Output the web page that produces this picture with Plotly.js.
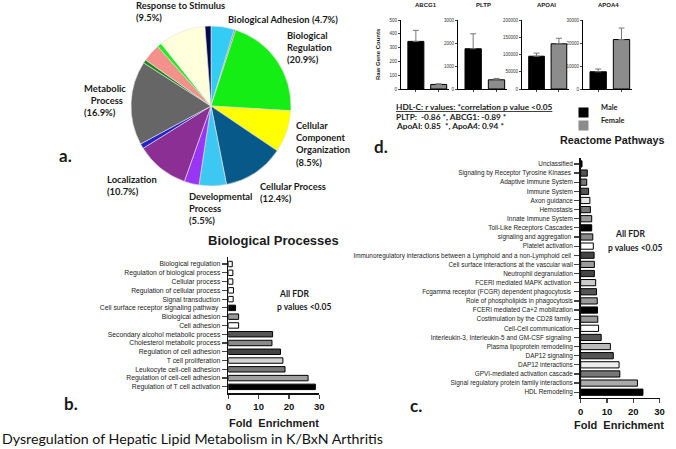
<!DOCTYPE html>
<html>
<head>
<meta charset="utf-8">
<script src="https://cdn.plot.ly/plotly-3.0.1.min.js"></script>
<style>html,body{margin:0;padding:0;background:#fff;}#chart{width:676px;height:449px;}</style>
</head>
<body>
<div id="chart"></div>
<script>
// ---------- Data ----------
// a. GO biological process pie (clockwise from 12 o'clock)
const pieLabels = ['Biological Adhesion', 'Other (a)', 'Biological Regulation', 'Cellular Component Organization',
  'Cellular Process', 'Developmental Process', 'Other (b)', 'Localization', 'Other (c)', 'Metabolic Process',
  'Other (d)', 'Other (e)', 'Other (f)', 'Response to Stimulus', 'Other (g)'];
const pieValues = [4.7, 0.3, 20.9, 8.5, 12.4, 5.5, 3.0, 10.7, 1.0, 16.9, 0.7, 3.6, 0.9, 9.5, 1.2];
const pieColors = ['#33ccf5', '#7a6a9a', '#14ee14', '#ffff00', '#07598a', '#3cc8f2', '#9b35f5', '#8c2f94',
  '#2424c8', '#666666', '#168c16', '#f4918b', '#22ee22', '#ffffdc', '#06064f'];

// d. raw gene counts
const genes = ['ABCG1', 'PLTP', 'APOAI', 'APOA4'];
const sexes = ['Male', 'Female'];
const maleMeans = [345, 1750, 95000, 7500];
const maleErr = [80, 650, 9000, 1200];
const femaleMeans = [33, 400, 131000, 21500];
const femaleErr = [5, 60, 16000, 5000];
const geneMax = [500, 3000, 200000, 30000];
const geneStep = [100, 1000, 50000, 10000];

// b. Biological processes (top to bottom)
const bpTerms = ['Biological regulation', 'Regulation of biological process', 'Cellular process',
  'Regulation of cellular process', 'Signal transduction', 'Cell surface receptor signaling pathway ',
  'Biological adhesion', 'Cell adhesion', 'Secondary alcohol metabolic process', 'Cholesterol metabolic process',
  'Regulation of cell adhesion', 'T cell proliferation', 'Leukocyte cell-cell adhesion',
  'Regulation of cell-cell adhesion', 'Regulation of T cell activation'];
const bpFold = [1.3, 1.5, 1.5, 1.7, 1.6, 2.4, 3.4, 3.4, 14.6, 14.4, 17.2, 18.0, 18.7, 26.3, 28.7];
const bpColors = ['#ffffff', '#ffffff', '#ffffff', '#ffffff', '#ffffff', '#000000', '#999999', '#ffffff',
  '#555555', '#8a8a8a', '#444444', '#d4d4d4', '#777777', '#a0a0a0', '#000000'];

// c. Reactome pathways (top to bottom)
const rxTerms = ['Unclassified', 'Signaling by Receptor Tyrosine Kinases ', 'Adaptive Immune System',
  'Immune System', 'Axon guidance', 'Hemostasis', 'Innate Immune System', 'Toll-Like Receptors Cascades',
  'signaling and aggregation ', 'Platelet activation',
  'Immunoregulatory interactions between a Lymphoid and a non-Lymphoid cell ',
  'Cell surface interactions at the vascular wall', 'Neutrophil degranulation', 'FCERI mediated MAPK activation ',
  'Fcgamma receptor (FCGR) dependent phagocytosis ', 'Role of phospholipids in phagocytosis',
  'FCERI mediated Ca+2 mobilization', 'Costimulation by the CD28 family ', 'Cell-Cell communication',
  'Interleukin-3, Interleukin-5 and GM-CSF signaling ', 'Plasma lipoprotein remodeling', 'DAP12 signaling',
  'DAP12 interactions', 'GPVI-mediated activation cascade', 'Signal regulatory protein family interactions',
  'HDL Remodeling'];
const rxFold = [0.5, 2.5, 2.3, 3.0, 3.5, 3.7, 4.2, 4.2, 4.6, 4.8, 5.1, 5.2, 5.2, 5.7, 6.0, 6.3, 6.4, 6.5, 6.8,
  7.8, 11.3, 12.4, 14.6, 14.9, 21.6, 23.7];
const rxColors = ['#000000', '#555555', '#777777', '#555555', '#e6e6e6', '#777777', '#9a9a9a', '#000000',
  '#8a8a8a', '#ffffff', '#444444', '#9a9a9a', '#444444', '#cccccc', '#555555', '#999999', '#000000', '#9a9a9a',
  '#ffffff', '#555555', '#bbbbbb', '#555555', '#eeeeee', '#777777', '#aaaaaa', '#000000'];
const foldTicks = [0, 10, 20, 30];

// ---------- Helpers ----------
const W = 676, H = 449;
const px = x => x / W;
const py = y => 1 - y / H;
const CAL = 'Lato, "Open Sans", sans-serif';
const ARI = '"Liberation Sans", Arial, sans-serif';
function label(text, x, y, size, o) {
  o = o || {};
  return {xref: 'paper', yref: 'paper', x: px(x), y: py(y), text: text, showarrow: false,
    xanchor: o.xanchor || 'left', yanchor: o.yanchor || 'middle', align: o.align || 'left',
    textangle: o.angle || 0,
    font: {family: o.family || CAL, size: size, color: o.color || '#1a1a1a'}};
}

const traces = [];
const layout = {
  width: W, height: H, margin: {l: 0, r: 0, t: 0, b: 0},
  paper_bgcolor: '#ffffff', plot_bgcolor: 'rgba(0,0,0,0)',
  showlegend: false, annotations: []
};

// Pie
traces.push({
  type: 'pie', labels: pieLabels, values: pieValues, sort: false, direction: 'clockwise', rotation: 0,
  textinfo: 'none', hoverinfo: 'label+percent',
  marker: {colors: pieColors, line: {color: '#e4e4e4', width: 0.6}},
  domain: {x: [px(131), px(291)], y: [py(186), py(26)]}
});

// d. small gene bar charts
const geneX = [[401, 449], [458, 507], [522, 569], [583, 632]];
genes.forEach((g, i) => {
  const n = i + 1;
  const xa = n === 1 ? 'x' : 'x' + n, ya = n === 1 ? 'y' : 'y' + n;
  traces.push({
    type: 'bar', x: sexes, y: [maleMeans[i], femaleMeans[i]], xaxis: xa, yaxis: ya, width: 0.7,
    marker: {color: ['#000000', '#8c8c8c'], line: {color: '#000', width: 1}},
    error_y: {type: 'data', symmetric: false, array: [maleErr[i], femaleErr[i]], arrayminus: [0, 0],
      color: '#777', thickness: 1, width: 3}
  });
  const tv = [];
  for (let v = 0; v <= geneMax[i]; v += geneStep[i]) tv.push(v);
  layout['xaxis' + (n === 1 ? '' : n)] = {
    domain: [px(geneX[i][0]), px(geneX[i][1])], anchor: ya, type: 'category',
    range: [-0.65, 1.45], showline: true, linecolor: '#000', linewidth: 1, ticks: 'outside', ticklen: 2,
    tickwidth: 1, showticklabels: false, showgrid: false, zeroline: false, fixedrange: true
  };
  layout['yaxis' + (n === 1 ? '' : n)] = {
    domain: [py(89), py(20)], anchor: xa, range: [0, geneMax[i]], tickvals: tv, tickformat: 'd',
    showline: true, linecolor: '#000', linewidth: 1, ticks: 'outside', ticklen: 2, tickwidth: 1,
    tickfont: {family: ARI, size: 4.5, color: '#333'}, showgrid: false, zeroline: false, automargin: false
  };
  layout.annotations.push(label('<b>' + g + '</b>', (geneX[i][0] + geneX[i][1]) / 2 + 1, 5, 6,
    {xanchor: 'center', family: ARI}));
});
layout.annotations.push(label('<b>Raw Gene Counts</b>', 378, 54, 6, {xanchor: 'center', angle: -90, family: ARI}));

// b. Biological processes
traces.push({
  type: 'bar', orientation: 'h', x: bpFold, y: bpTerms, xaxis: 'x5', yaxis: 'y5', width: 0.62,
  marker: {color: bpColors, line: {color: '#000', width: 1}}
});
layout.xaxis5 = {
  domain: [px(228.3), px(319.3)], anchor: 'y5', range: [0, 30], tickvals: foldTicks,
  showline: true, linecolor: '#111', linewidth: 1.6, ticks: 'outside', ticklen: 4, tickwidth: 1.4,
  tickfont: {family: ARI, size: 9.5, color: '#111', weight: 'bold'}, showgrid: false, zeroline: false
};
layout.yaxis5 = {
  domain: [py(393), py(257)], anchor: 'x5', type: 'category', categoryorder: 'array',
  categoryarray: bpTerms.slice().reverse(), range: [-0.7, 14.8],
  showline: true, linecolor: '#111', linewidth: 1.6, ticks: 'outside', ticklen: 5, tickwidth: 1.2,
  tickfont: {family: ARI, size: 6.8, color: '#222'}, showgrid: false, zeroline: false, automargin: false
};

// c. Reactome pathways
traces.push({
  type: 'bar', orientation: 'h', x: rxFold, y: rxTerms, xaxis: 'x6', yaxis: 'y6', width: 0.68,
  marker: {color: rxColors, line: {color: '#000', width: 1}}
});
layout.xaxis6 = {
  domain: [px(580.7), px(659.5)], anchor: 'y6', range: [0, 30], tickvals: foldTicks,
  showline: true, linecolor: '#111', linewidth: 1.6, ticks: 'outside', ticklen: 4, tickwidth: 1.4,
  tickfont: {family: ARI, size: 9.5, color: '#111', weight: 'bold'}, showgrid: false, zeroline: false
};
layout.yaxis6 = {
  domain: [py(397.7), py(158)], anchor: 'x6', type: 'category', categoryorder: 'array',
  categoryarray: rxTerms.slice().reverse(), range: [-0.6, 25.65],
  showline: true, linecolor: '#111', linewidth: 1.6, ticks: 'outside', ticklen: 5, tickwidth: 1.2,
  tickfont: {family: ARI, size: 6.4, color: '#222'}, showgrid: false, zeroline: false, automargin: false
};

// ---------- Text annotations ----------
const A = layout.annotations;
// pie labels
const PF = 9.4;
A.push(label('<b>Response to Stimulus<br>(9.5%)</b>', 134, 12, PF));
A.push(label('<b>Biological Adhesion (4.7%)</b>', 226, 19, PF));
A.push(label('<b>Biological<br>Regulation<br>(20.9%)</b>', 285, 48, PF));
A.push(label('<b>Cellular<br>Component<br>Organization<br>(8.5%)</b>', 294, 144, PF));
A.push(label('<b>Cellular Process<br>(12.4%)</b>', 258, 192.5, PF));
A.push(label('<b>Developmental<br>Process<br>(5.5%)</b>', 187, 209, PF));
A.push(label('<b>Localization<br>(10.7%)</b>', 105, 185, PF));
A.push(label('<b>Metabolic<br>&nbsp;&nbsp;&nbsp;Process<br>(16.9%)</b>', 82, 100, PF));
A.push(label('<b>a.</b>', 57, 155, 17));
A.push(label('<b>b.</b>', 62, 403, 17));
A.push(label('<b>c.</b>', 408, 405, 17));
A.push(label('<b>d.</b>', 372, 146, 17));

// titles
A.push(label('<b>Biological Processes</b>', 273, 240, 13, {xanchor: 'center', family: ARI}));
A.push(label('<b>Reactome Pathways</b>', 612, 140, 10.8, {xanchor: 'center', family: ARI}));
A.push(label('Dysregulation of Hepatic Lipid Metabolism in K/BxN Arthritis', 0, 438, 14.2, {color: '#111'}));

// FDR notes
A.push(label('<b>All FDR</b>', 277, 294, 8.5));
A.push(label('<b>p values &lt;0.05</b>', 275, 307, 8.5));
A.push(label('<b>All FDR</b>', 613, 234, 8.5));
A.push(label('<b>p values &lt;0.05</b>', 606, 248, 8.5));

// axis titles
A.push(label('<b>Fold\u00a0 Enrichment</b>', 274, 423, 11, {xanchor: 'center', family: ARI}));
A.push(label('<b>Fold\u00a0 Enrichment</b>', 619, 425, 11, {xanchor: 'center', family: ARI}));

// correlation notes
const CF = 8.3;
A.push(label('<b><u>HDL-C: r values: *correlation p value &lt;0.05</u></b>', 394, 107, CF));
A.push(label('<b>PLTP:&nbsp; -0.86 *, ABCG1: -0.89 *</b>', 394, 116.5, CF));
A.push(label('<b>ApoAI: 0.85&nbsp; *, ApoA4: 0.94 *</b>', 394, 126, CF));

// legend keys
A.push({xref: 'paper', yref: 'paper', x: px(588.5), y: py(107), text: '\u00a0', showarrow: false,
  width: 9, height: 9, bgcolor: '#000000', borderpad: 0, font: {size: 1}});
A.push({xref: 'paper', yref: 'paper', x: px(588.5), y: py(120), text: '\u00a0', showarrow: false,
  width: 9, height: 9, bgcolor: '#8c8c8c', borderpad: 0, font: {size: 1}});
A.push(label('<b>Male</b>', 599, 107, 7.4));
A.push(label('<b>Female</b>', 599, 120, 7.4));

Plotly.newPlot('chart', traces, layout, {staticPlot: true, displayModeBar: false});
</script>
</body>
</html>
